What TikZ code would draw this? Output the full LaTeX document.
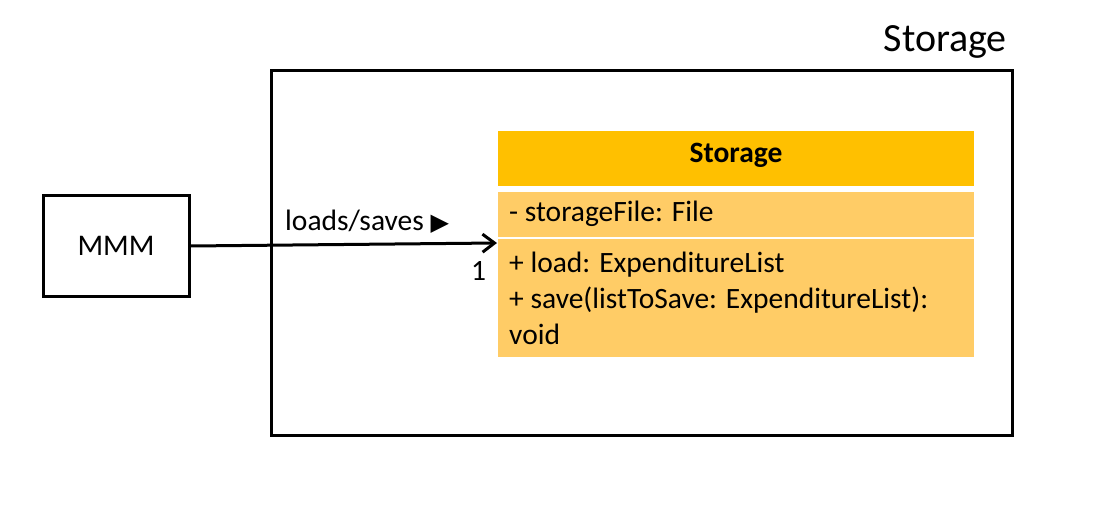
\documentclass[tikz,border=0pt]{standalone}
\usepackage{fontspec}
\setmainfont{Carlito}
\newfontfamily\symfont{DejaVu Sans}
\usetikzlibrary{arrows.meta}
\definecolor{hdrcol}{HTML}{FFC000}
\definecolor{bodycol}{HTML}{FFCC66}
\tikzset{
  plainbox/.style={draw=black, line width=3pt, fill=white},
  sect/.style={inner sep=0pt, minimum width=476pt, draw=none},
  txt/.style={inner sep=0pt, font=\fontsize{29.5}{36}\selectfont, anchor=base west},
}
\begin{document}
\begin{tikzpicture}[x=1pt,y=-1pt]
\useasboundingbox (0,0) rectangle (1109,532);
% outer package box
\node[plainbox, minimum width=741pt, minimum height=364pt, inner sep=0pt] (pkg) at (641.5,253) {};
\node[inner sep=0pt, anchor=base east, font=\fontsize{40}{44}\selectfont] (pkgname) at (1007,52) {Storage};
% MMM box
\node[plainbox, minimum width=146pt, minimum height=100pt, inner sep=0pt, font=\fontsize{30}{34}\selectfont] (mmm) at (116,246) {MMM};
% class box
\node[sect, fill=hdrcol, minimum height=55pt] (hdr) at (736,158.5) {};
\node[inner sep=0pt, anchor=base, font=\fontsize{29.5}{34}\selectfont\bfseries] (hdrtxt) at (736,163) {Storage};
\node[sect, fill=bodycol, minimum height=45pt] (attr) at (736,214.5) {};
\node[txt] (attrtxt) at (509,222) {- storageFile: File};
\node[sect, fill=bodycol, minimum height=118pt] (meth) at (736,298) {};
\node[txt] (m1) at (509,272) {+ load: ExpenditureList};
\node[txt] (m2) at (509,308) {+ save(listToSave: ExpenditureList):};
\node[txt] (m3) at (509,344) {void};
% connector
\coordinate (tgt) at (497,243);
\draw[line width=3pt, -{Straight Barb[length=12pt,width=18pt,line width=3pt]}] (mmm.east) -- (tgt);
\node[txt] (lbl) at (285,230) {loads/saves {\symfont\fontsize{24}{28}\selectfont ▶}};
\node[txt] (mult) at (471,280) {1};
\end{tikzpicture}
\end{document}
